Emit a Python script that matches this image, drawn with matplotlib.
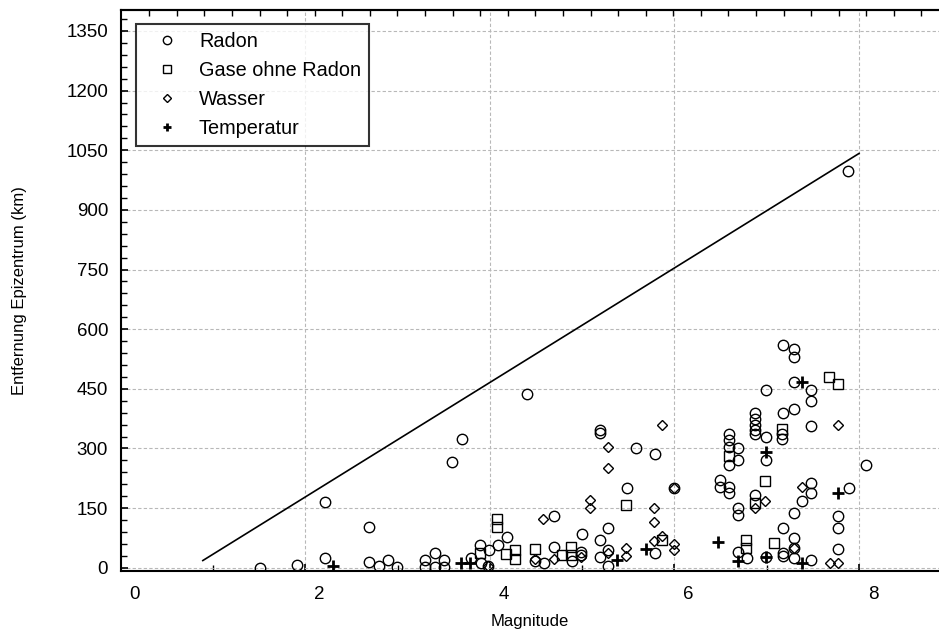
import matplotlib
matplotlib.use("Agg")
import matplotlib.pyplot as plt
import matplotlib.transforms as mtransforms
import numpy as np

plt.rcParams["font.family"] = ["Liberation Sans", "DejaVu Sans"]

# Radon
radon_x = [1.51, 1.91, 2.21, 2.21, 2.69, 2.69, 2.80, 2.90, 2.99, 3.30, 3.41, 3.50,
           3.30, 3.41, 3.50, 3.59, 3.70, 3.80, 3.90, 3.89, 3.99, 4.09, 4.19, 3.98,
           4.69, 4.59, 4.49, 4.69, 4.89, 4.99, 4.99, 5.00, 5.19, 5.28, 5.19, 5.28,
           5.28, 4.40, 5.19, 5.19, 5.58, 5.79, 5.49, 5.79, 5.99, 6.49, 6.49, 6.59,
           6.59, 7.18, 7.29, 7.29, 7.29, 6.99, 7.48, 7.48, 7.18, 7.29, 7.48, 6.87,
           6.87, 6.87, 6.87, 6.87, 6.99, 7.17, 7.17, 6.59, 6.59, 6.59, 6.59, 6.69,
           6.69, 6.99, 6.87, 7.48, 7.48, 7.38, 7.29, 7.89, 8.07, 7.77, 7.77, 7.77,
           6.69, 6.69, 6.69, 6.79, 6.99, 7.18, 7.29, 7.29, 7.18, 7.18, 7.29, 7.48,
           7.88]
radon_y = [0, 7, 165, 24, 103, 14, 5, 19, 3, 19, 36, 19,
           3, 3, 3, 265, 324, 24, 13, 57, 44, 57, 76, 4,
           130, 13, 16, 53, 18, 40, 32, 86, 70, 99, 26, 44,
           4, 438, 346, 339, 300, 286, 200, 38, 200, 220, 202, 204,
           189, 560, 549, 530, 468, 448, 448, 420, 390, 400, 357, 388,
           373, 359, 346, 336, 329, 336, 323, 336, 321, 304, 258, 300,
           270, 271, 183, 212, 189, 168, 138, 200, 258, 131, 101, 47,
           149, 132, 40, 25, 26, 99, 74, 49, 38, 29, 24, 19,
           998]

# Gase ohne Radon
gase_x = [3.89, 4.08, 4.08, 4.18, 4.27, 4.27, 4.49, 4.78, 4.88, 4.88, 5.48, 5.87,
          6.59, 6.98, 6.87, 7.17, 7.67, 7.77, 6.77, 6.77, 7.08]
gase_y = [38, 122, 102, 34, 44, 21, 46, 32, 51, 32, 158, 70,
          281, 218, 162, 350, 480, 462, 70, 49, 61]

# Wasser
wasser_x = [3.98, 4.58, 4.49, 4.69, 4.99, 5.28, 5.48, 5.48, 5.08, 5.08, 5.28, 5.28,
            5.78, 5.78, 5.87, 5.78, 5.99, 5.99, 5.99, 5.87, 7.77, 6.87, 6.98, 7.38,
            7.29, 7.68, 7.77]
wasser_y = [4, 122, 21, 21, 26, 36, 49, 29, 170, 149, 303, 250,
            149, 116, 80, 68, 60, 44, 200, 359, 359, 149, 168, 202,
            49, 13, 13]

# Temperatur
temp_x = [2.30, 3.69, 3.78, 5.38, 5.69, 6.47, 7.38, 6.99, 7.77, 6.69, 6.99, 7.38]
temp_y = [5, 12, 12, 19, 46, 65, 468, 292, 189, 18, 26, 11]

# Grenzlinie
line_x = [0.89, 8.0]
line_y = [18, 1042]

x_ticks = [0, 2, 4, 6, 8]
y_ticks = np.arange(0, 1351, 150)

fig = plt.figure(figsize=(9.39, 6.36), dpi=100)
ax = fig.add_axes([0.1285, 0.1022, 0.8715, 0.8816])

ax.plot(line_x, line_y, color="black", lw=1.2)
ax.plot(radon_x, radon_y, ls="none", marker="o", ms=7.5, mfc="none", mec="black",
        mew=1.0, label="Radon")
ax.plot(gase_x, gase_y, ls="none", marker="s", ms=6.5, mfc="none", mec="black",
        mew=1.0, label="Gase ohne Radon")
ax.plot(wasser_x, wasser_y, ls="none", marker="D", ms=5.5, mfc="none", mec="black",
        mew=1.0, label="Wasser")
ax.plot(temp_x, temp_y, ls="none", marker="+", ms=8, mec="black", mew=2.0,
        label="Temperatur")

ax.set_xlim(0, 8.866)
ax.set_ylim(-8.3, 1402)
ax.set_xticks(x_ticks)
ax.set_yticks(y_ticks)
ax.set_xticks(np.arange(1, 9, 2), minor=True)
ax.set_yticks(np.arange(30, 1400, 30), minor=True)
ax.grid(True, which="major", ls=(0, (3, 2)), color="#b8b8b8", lw=0.8)
ax.tick_params(which="both", direction="in", top=False, right=False, color="black")
ax.tick_params(which="major", length=5, width=1.2, labelsize=13.5)
ax.tick_params(which="minor", length=4, width=1.0)
ax.tick_params(axis="x", pad=11)
ax.tick_params(axis="y", pad=9)
ax.spines["right"].set_visible(False)
for s in ["left", "bottom", "top"]:
    ax.spines[s].set_linewidth(1.5)

# obere Achse mit eigener Teilung
top = ax.secondary_xaxis("top")
top.set_xticks(np.arange(0.31, 8.87, 0.2988))
top.tick_params(direction="in", length=4, width=1.0, labeltop=False)
top.spines["top"].set_linewidth(1.5)

offset = mtransforms.ScaledTranslation(0.14, 0, fig.dpi_scale_trans)
for lab in ax.get_xticklabels():
    lab.set_transform(lab.get_transform() + offset)

ax.set_xlabel("Magnitude", fontsize=12, labelpad=8)
ax.set_ylabel("Entfernung Epizentrum (km)", fontsize=12, labelpad=28)

leg = ax.legend(loc="upper left", bbox_to_anchor=(0.0187, 0.9756), borderaxespad=0,
                fontsize=14.3, markerscale=0.8, frameon=True, fancybox=False,
                edgecolor="black", handlelength=2.35, handletextpad=0.42,
                borderpad=0.4, labelspacing=0.5)
leg.get_frame().set_linewidth(1.5)

fig.savefig("out.png", dpi=100)
